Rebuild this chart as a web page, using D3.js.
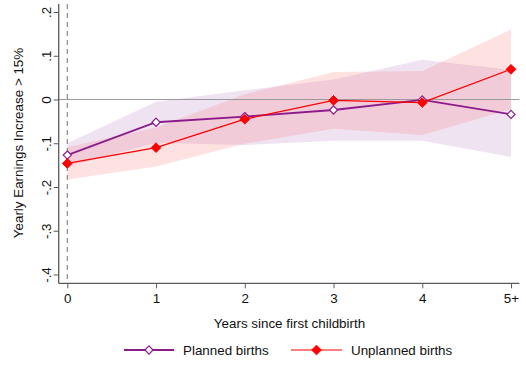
<!DOCTYPE html>
<html>
<head>
<meta charset="utf-8">
<script src="https://cdn.jsdelivr.net/npm/d3@7/dist/d3.min.js"></script>
<style>
  html, body { margin: 0; padding: 0; background: #fff; }
  svg { display: block; font-family: "Liberation Sans", Arial, sans-serif; }
</style>
</head>
<body>
<svg id="chart" width="526" height="365"></svg>
<script>
// Years since first childbirth (5 = "5+")
const years = [0, 1, 2, 3, 4, 5];
const yearLabels = ["0", "1", "2", "3", "4", "5+"];
const yTicks = [0.2, 0.1, 0, -0.1, -0.2, -0.3, -0.4];
const yTickLabels = [".2", ".1", "0", "-.1", "-.2", "-.3", "-.4"];

// Planned births: estimate with 95% CI
const plannedEst   = [-0.127, -0.052, -0.039, -0.024, -0.001, -0.034];
const plannedLower = [-0.153, -0.099, -0.104, -0.094, -0.094, -0.131];
const plannedUpper = [-0.100, -0.005,  0.021,  0.046,  0.091,  0.068];

// Unplanned births: estimate with 95% CI
const unplannedEst   = [-0.146, -0.110, -0.045, -0.002, -0.007, 0.069];
const unplannedLower = [-0.183, -0.153, -0.101, -0.067, -0.081, -0.022];
const unplannedUpper = [-0.109, -0.064,  0.012,  0.063,  0.065, 0.160];

const series = [
  { name: "Planned births", est: plannedEst, lo: plannedLower, hi: plannedUpper,
    color: "#8b1a8b", band: "rgba(150,70,170,0.15)", width: 1.8, filled: false },
  { name: "Unplanned births", est: unplannedEst, lo: unplannedLower, hi: unplannedUpper,
    color: "#ff0000", band: "rgba(250,110,110,0.2)", width: 1.2, filled: true }
];

const FONT = "13.4px";
const svg = d3.select("#chart");

const x = d3.scaleLinear().domain([0, 5]).range([67.3, 511]);
const y = d3.scaleLinear().domain([0.2, -0.4]).range([12, 274.5]);

const plotLeft = 58.7, plotRight = 519.3, plotTop = 4, plotBottom = 283.3;

// Confidence bands
const area = d3.area()
  .x((d, i) => x(years[i]))
  .y0(d => y(d[0]))
  .y1(d => y(d[1]));

series.forEach(s => {
  svg.append("path")
    .datum(s.lo.map((v, i) => [v, s.hi[i]]))
    .attr("d", area)
    .attr("fill", s.band)
    .attr("stroke", "none");
});

// Zero reference line
svg.append("line")
  .attr("x1", plotLeft).attr("x2", plotRight)
  .attr("y1", y(0)).attr("y2", y(0))
  .attr("stroke", "#9a9a9a").attr("stroke-width", 1.2);

// Childbirth marker (dashed vertical line at year 0)
svg.append("line")
  .attr("x1", x(0)).attr("x2", x(0))
  .attr("y1", plotTop).attr("y2", plotBottom)
  .attr("stroke", "#808080").attr("stroke-width", 1.1)
  .attr("stroke-dasharray", "5,4");

// Lines and markers
const line = d3.line().x((d, i) => x(years[i])).y(d => y(d));
const diamond = d3.symbol().type(d3.symbolDiamond2);

series.forEach(s => {
  svg.append("path")
    .datum(s.est)
    .attr("d", line)
    .attr("fill", "none")
    .attr("stroke", s.color)
    .attr("stroke-width", s.width);

  svg.selectAll(null)
    .data(s.est)
    .enter().append("path")
    .attr("transform", (d, i) => `translate(${x(years[i])},${y(d)})`)
    .attr("d", diamond.size(s.filled ? 60 : 42))
    .attr("fill", s.filled ? s.color : "#fff")
    .attr("stroke", s.color)
    .attr("stroke-width", s.filled ? 1 : 1.2);
});

// Axes
const axisColor = "#5a5a5a";
const yAxis = d3.axisLeft(y)
  .tickValues(yTicks)
  .tickFormat((d, i) => yTickLabels[i])
  .tickSize(5)
  .tickSizeOuter(0);
const gy = svg.append("g").attr("transform", `translate(${plotLeft},0)`).call(yAxis);
gy.select(".domain").attr("d", `M0,${plotTop}V${plotBottom}`).attr("stroke", axisColor).attr("stroke-width", 1.3);
gy.selectAll(".tick line").attr("stroke", axisColor);
gy.selectAll(".tick text")
  .attr("transform", "rotate(-90)")
  .attr("x", 0).attr("y", -8)
  .attr("dy", 0)
  .attr("text-anchor", "middle")
  .style("font-size", FONT)
  .style("font-family", "Liberation Sans, Arial, sans-serif")
  .attr("fill", "#111");

const xAxis = d3.axisBottom(x)
  .tickValues(years)
  .tickFormat((d, i) => yearLabels[i])
  .tickSize(5)
  .tickSizeOuter(0);
const gx = svg.append("g").attr("transform", `translate(0,${plotBottom})`).call(xAxis);
gx.select(".domain").attr("d", `M${plotLeft},0H${plotRight}`).attr("stroke", axisColor).attr("stroke-width", 1.3);
gx.selectAll(".tick line").attr("stroke", axisColor);
gx.selectAll(".tick text")
  .attr("y", 10).attr("dy", "0.71em")
  .style("font-size", FONT)
  .style("font-family", "Liberation Sans, Arial, sans-serif")
  .attr("fill", "#111");

// Axis titles
svg.append("text")
  .attr("transform", `translate(22.5,143) rotate(-90)`)
  .attr("text-anchor", "middle")
  .style("font-size", FONT)
  .attr("fill", "#111")
  .text("Yearly Earnings Increase > 15%");

svg.append("text")
  .attr("x", 289.5).attr("y", 328)
  .attr("text-anchor", "middle")
  .style("font-size", FONT)
  .attr("fill", "#111")
  .text("Years since first childbirth");

// Legend
const legendY = 350;
const legendItems = [
  { s: series[0], x0: 124, x1: 174, tx: 183 },
  { s: series[1], x0: 291, x1: 342, tx: 351 }
];
legendItems.forEach(it => {
  const g = svg.append("g");
  g.append("line")
    .attr("x1", it.x0).attr("x2", it.x1)
    .attr("y1", legendY).attr("y2", legendY)
    .attr("stroke", it.s.color).attr("stroke-width", it.s.width);
  g.append("path")
    .attr("transform", `translate(${(it.x0 + it.x1) / 2},${legendY})`)
    .attr("d", diamond.size(it.s.filled ? 60 : 42)())
    .attr("fill", it.s.filled ? it.s.color : "#fff")
    .attr("stroke", it.s.color)
    .attr("stroke-width", it.s.filled ? 1 : 1.2);
  g.append("text")
    .attr("x", it.tx).attr("y", legendY + 4.5)
    .style("font-size", FONT)
    .attr("fill", "#111")
    .text(it.s.name);
});
</script>
</body>
</html>
